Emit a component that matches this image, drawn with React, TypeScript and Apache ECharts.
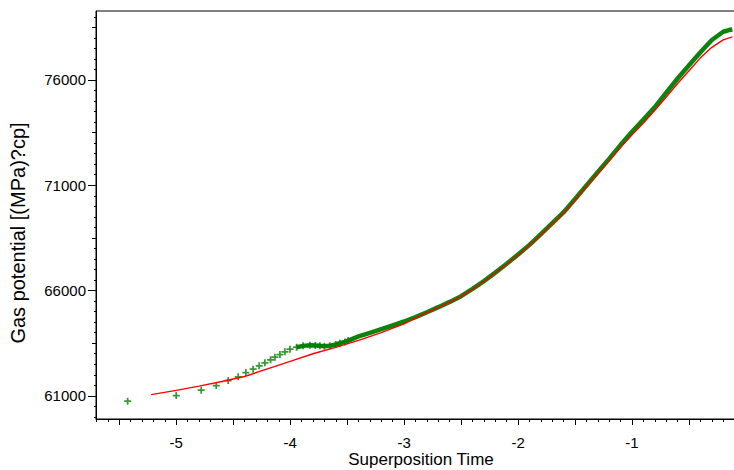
import React, { useEffect, useRef } from "react";
import * as echarts from "echarts";

// Measured points, early sparse part (markers)
const markerX = [-5.426, -5.0, -4.781, -4.649, -4.544, -4.456, -4.389, -4.325, -4.272, -4.222, -4.172, -4.134, -4.09, -4.046, -4.002, -3.944, -3.886, -3.827, -3.78, -3.739, -3.7, -3.652, -3.6, -3.564, -3.52, -3.491];
const markerY = [60748, 61014, 61270, 61489, 61726, 61902, 62106, 62267, 62424, 62566, 62709, 62837, 62960, 63088, 63216, 63311, 63373, 63406, 63390, 63373, 63360, 63373, 63440, 63501, 63560, 63625];

// Measured points, dense part (drawn as a thick band)
const bandX = [-3.944, -3.886, -3.827, -3.78, -3.739, -3.7, -3.652, -3.6, -3.564, -3.52, -3.491, -3.4, -3.3, -3.2, -3.1, -3.0, -2.9, -2.8, -2.7, -2.6, -2.5, -2.4, -2.3, -2.2, -2.1, -2.0, -1.9, -1.8, -1.7, -1.6, -1.5, -1.4, -1.3, -1.2, -1.1, -1.0, -0.9, -0.8, -0.7, -0.6, -0.5, -0.4, -0.3, -0.2, -0.15, -0.12];
const bandY = [63311, 63373, 63406, 63390, 63373, 63360, 63373, 63440, 63501, 63560, 63625, 63820, 63990, 64170, 64350, 64530, 64740, 64970, 65210, 65460, 65730, 66080, 66450, 66850, 67270, 67710, 68170, 68680, 69200, 69720, 70350, 70990, 71630, 72260, 72920, 73540, 74120, 74710, 75400, 76070, 76700, 77320, 77900, 78290, 78370, 78400];

// Model curve (red)
const modelX = [-5.22, -5.0, -4.8, -4.6, -4.4, -4.2, -4.0, -3.8, -3.6, -3.4, -3.2, -3.1, -3.0, -2.9, -2.8, -2.7, -2.6, -2.5, -2.4, -2.3, -2.2, -2.1, -2.0, -1.9, -1.8, -1.7, -1.6, -1.5, -1.4, -1.3, -1.2, -1.1, -1.0, -0.9, -0.8, -0.7, -0.6, -0.5, -0.4, -0.3, -0.2, -0.12];
const modelY = [61060, 61260, 61460, 61680, 61920, 62280, 62640, 63000, 63300, 63630, 64000, 64220, 64420, 64700, 64950, 65200, 65450, 65720, 66060, 66430, 66830, 67250, 67690, 68150, 68650, 69170, 69680, 70300, 70940, 71560, 72180, 72800, 73400, 73960, 74560, 75190, 75830, 76440, 77050, 77550, 77900, 78050];

const xLabels = [-5, -4, -3, -2, -1];
const yLabels = [61000, 66000, 71000, 76000];
const yMidTicks = [63500, 68500, 73500, 78500];

const X_MIN = -5.704;
const X_MAX = 0;
const Y_MIN = 59900;
const Y_MAX = 79275;

function range(a: number, b: number, step: number, digits: number) {
  const out: number[] = [];
  for (let v = a; v <= b + step / 2; v += step) out.push(Number(v.toFixed(digits)));
  return out;
}

const xHalfTicks = range(-5.5, -0.5, 0.5, 1);
const xMinorTicks = range(-5.7, -0.1, 0.1, 1);
const yMinorTicks = range(60000, 79000, 500, 0);

const zip = (xs: number[], ys: number[]) => xs.map((x, i) => [x, ys[i]]);

const FONT = "Liberation Sans";
const PLUS = "path://M3,0h2v3h3v2h-3v3h-2v-3h-3v-2h3z";
const CHART_W = 750;
const GRID = { left: 96, top: 11, right: 4, bottom: 51, containLabel: false, outerBoundsMode: "none" };

export default function App() {
  const ref = useRef<HTMLDivElement>(null);
  useEffect(() => {
    if (!ref.current) return;
    const chart = echarts.init(ref.current, undefined, { renderer: "svg" });
    const baseX = {
      type: "value" as const,
      min: X_MIN,
      max: X_MAX,
      position: "bottom" as const,
      splitLine: { show: false },
    };
    const baseY = {
      type: "value" as const,
      min: Y_MIN,
      max: Y_MAX,
      position: "left" as const,
      splitLine: { show: false },
    };
    const line = (show: boolean) => ({ show, onZero: false, lineStyle: { color: "#000", width: 1 } });
    chart.setOption({
      animation: false,
      backgroundColor: "#fff",
      grid: [
        { ...GRID, show: true, borderColor: "#000", borderWidth: 1, backgroundColor: "transparent" },
        { ...GRID, show: false },
        { ...GRID, show: false },
      ],
      xAxis: [
        {
          ...baseX,
          gridIndex: 0,
          name: "Superposition Time",
          nameLocation: "middle",
          nameGap: 31,
          nameMoveOverlap: false,
          nameTextStyle: { fontFamily: FONT, fontSize: 17, lineHeight: 18, color: "#000" },
          axisLine: line(true),
          axisTick: { show: true, length: 6, customValues: xHalfTicks, lineStyle: { color: "#000" } },
          axisLabel: {
            show: true,
            customValues: xLabels,
            margin: 16,
            fontFamily: FONT,
            fontSize: 15,
            color: "#000",
            formatter: (v: number) => String(v),
          },
        },
        {
          ...baseX,
          gridIndex: 1,
          axisLine: line(false),
          axisTick: { show: true, length: 3, customValues: xMinorTicks, lineStyle: { color: "#000" } },
          axisLabel: { show: false },
        },
        { ...baseX, gridIndex: 2, axisLine: line(false), axisTick: { show: false }, axisLabel: { show: false } },
      ],
      yAxis: [
        {
          ...baseY,
          gridIndex: 0,
          name: "Gas potential [(MPa)?cp]",
          nameLocation: "middle",
          nameGap: 68,
          nameMoveOverlap: false,
          nameRotate: 90,
          nameTextStyle: { fontFamily: FONT, fontSize: 20, color: "#000", padding: [0, 36, 0, 0] },
          axisLine: line(true),
          axisTick: { show: true, length: 8, customValues: yLabels, lineStyle: { color: "#000" } },
          axisLabel: {
            show: true,
            customValues: yLabels,
            margin: 10,
            fontFamily: FONT,
            fontSize: 15,
            color: "#000",
            formatter: (v: number) => String(v),
          },
        },
        {
          ...baseY,
          gridIndex: 1,
          axisLine: line(false),
          axisTick: { show: true, length: 4, customValues: yMidTicks, lineStyle: { color: "#000" } },
          axisLabel: { show: false },
        },
        {
          ...baseY,
          gridIndex: 2,
          axisLine: line(false),
          axisTick: { show: true, length: 2, customValues: yMinorTicks, lineStyle: { color: "#000" } },
          axisLabel: { show: false },
        },
      ],
      series: [
        {
          type: "line",
          name: "data band",
          xAxisIndex: 0,
          yAxisIndex: 0,
          data: zip(bandX, bandY),
          showSymbol: false,
          symbol: "none",
          lineStyle: { color: "#0a840a", width: 4.5 },
          z: 2,
        },
        {
          type: "scatter",
          name: "data",
          xAxisIndex: 0,
          yAxisIndex: 0,
          data: zip(markerX, markerY),
          symbol: PLUS,
          symbolSize: 7,
          itemStyle: { color: "#008000" },
          z: 3,
        },
        {
          type: "line",
          name: "model",
          xAxisIndex: 0,
          yAxisIndex: 0,
          data: zip(modelX, modelY),
          showSymbol: false,
          symbol: "none",
          lineStyle: { color: "#ff0000", width: 1.4 },
          z: 4,
        },
      ],
    });
    return () => chart.dispose();
  }, []);
  return (
    <div
      style={{
        position: "absolute",
        left: 0,
        top: 0,
        width: 734,
        height: 470,
        overflow: "hidden",
        background: "#fff",
      }}
    >
      <div ref={ref} style={{ width: CHART_W, height: 470 }} />
    </div>
  );
}
